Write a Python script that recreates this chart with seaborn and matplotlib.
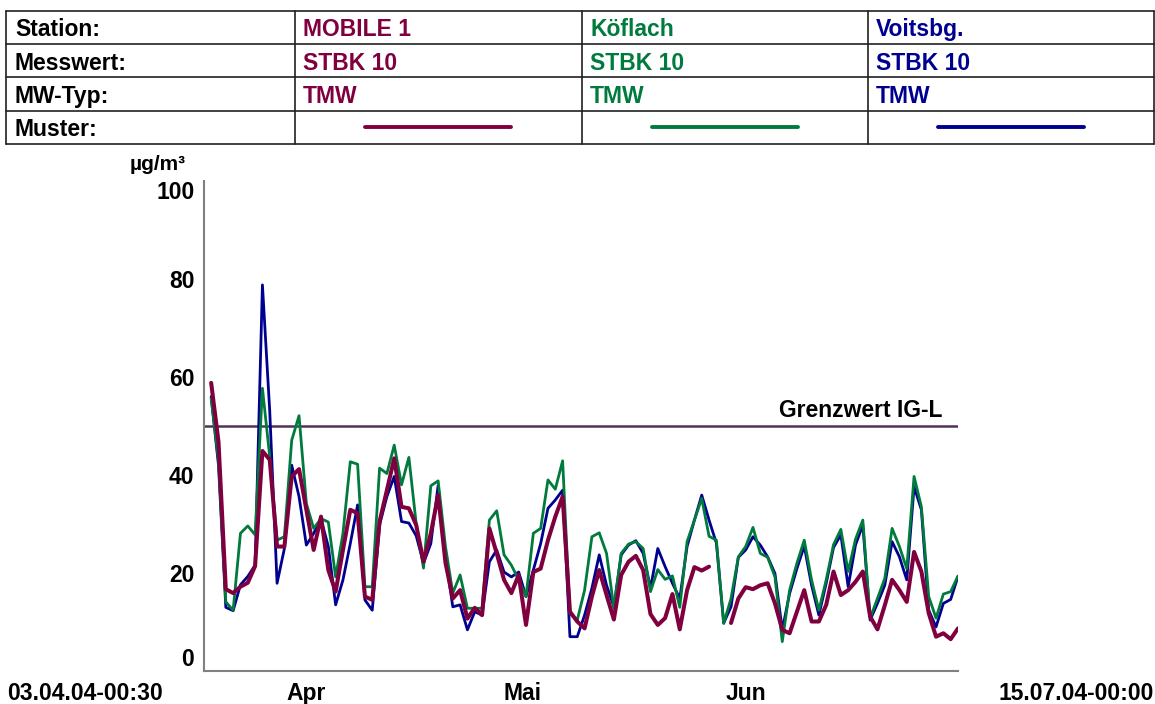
import numpy as np
import pandas as pd
import matplotlib.pyplot as plt
import matplotlib.transforms as mtransforms
from matplotlib.lines import Line2D
import seaborn as sns

# ============================
#  DATA (Tagesmittelwerte STBK 10, µg/m³)
# ============================
dates = pd.date_range("2004-04-04", "2004-07-15", freq="D")

mobile1 = [58.8, 46.8, 16.7, 15.9, 17.2, 18.0, 21.4, 44.9, 43.1, 25.4,
           25.4, 39.7, 41.2, 32.9, 24.7, 31.5, 20.6, 16.2, 24.7, 32.9,
           32.2, 15.2, 14.5, 30.5, 36.9, 43.4, 33.5, 33.2, 29.8, 22.3,
           28.1, 35.9, 22.1, 14.8, 16.5, 10.7, 12.9, 11.4, 29.1, 24.0,
           18.6, 15.9, 19.6, 9.4, 20.2, 20.9, 26.7, 31.5, 35.6, 12.1,
           10.1, 8.7, 15.2, 20.6, 15.5, 10.5, 19.6, 22.3, 23.5, 20.6,
           11.6, 9.4, 10.8, 15.7, 8.5, 16.5, 21.2, 20.5, 21.3, np.nan,
           np.nan, 9.8, 14.8, 17.1, 16.7, 17.5, 17.9, 13.8, 8.4, 7.7,
           12.1, 16.5, 10.1, 10.1, 13.5, 20.3, 15.5, 16.5, 18.2, 20.3,
           11.1, 8.5, 13.4, 18.6, 16.5, 14.1, 24.3, 20.3, 11.8, 7.0,
           7.7, 6.5, 8.7]

koeflach = [55.6, 43.0, 14.1, 12.4, 28.1, 29.6, 27.8, 57.7, 43.7, 26.7,
            27.4, 47.1, 52.1, 34.2, 29.1, 31.1, 30.4, 19.2, 28.1, 42.7,
            42.2, 17.2, 17.2, 41.4, 40.3, 46.1, 38.0, 43.6, 30.1, 21.0,
            37.8, 38.8, 25.4, 15.9, 19.6, 12.8, 12.8, 12.8, 30.8, 32.7,
            23.7, 21.6, 18.6, 15.2, 28.1, 29.1, 39.0, 37.1, 42.9, 11.7,
            10.4, 16.5, 27.4, 28.2, 24.0, 12.8, 24.0, 25.9, 26.4, 25.0,
            16.2, 20.7, 18.7, 19.4, 13.0, 26.4, 30.8, 35.2, 27.5, 26.7,
            9.7, 14.8, 23.3, 25.4, 29.3, 24.0, 23.2, 19.2, 6.0, 16.5,
            22.0, 26.7, 18.6, 12.4, 18.6, 25.8, 28.9, 20.3, 26.9, 30.8,
            10.8, 14.8, 18.9, 29.1, 25.4, 20.9, 39.7, 33.5, 15.2, 10.8,
            15.7, 16.2, 19.4]

voitsberg = [56.0, 42.0, 13.0, 12.3, 17.6, 19.3, 21.6, 78.8, 53.0, 17.9,
             25.0, 42.0, 35.6, 25.7, 28.1, 31.0, 25.4, 13.5, 18.6, 26.0,
             33.9, 14.5, 12.4, 29.8, 35.6, 39.7, 30.5, 30.2, 27.6, 22.0,
             26.0, 37.9, 23.3, 13.1, 13.5, 8.4, 12.1, 11.4, 22.3, 24.7,
             20.2, 19.2, 20.2, 15.2, 20.6, 26.0, 33.2, 34.9, 36.9, 7.0,
             7.0, 11.4, 16.9, 23.7, 17.5, 13.1, 23.7, 25.7, 26.6, 24.0,
             16.9, 25.0, 21.3, 17.9, 14.8, 25.4, 30.8, 35.9, 30.8, 26.1,
             9.8, 13.1, 23.2, 24.7, 27.4, 25.7, 23.3, 19.9, 8.4, 15.8,
             20.9, 25.5, 17.5, 11.4, 17.9, 25.2, 27.8, 17.2, 25.7, 29.8,
             10.4, 13.8, 17.5, 26.4, 23.3, 18.6, 37.6, 32.9, 12.4, 9.0,
             13.8, 14.6, 19.3]

stations = ["MOBILE 1", "Köflach", "Voitsbg."]
messwert = ["STBK 10", "STBK 10", "STBK 10"]
mw_typ = ["TMW", "TMW", "TMW"]
row_labels = ["Station:", "Messwert:", "MW-Typ:", "Muster:"]

colors = {"MOBILE 1": "#80003F", "Köflach": "#007A3D", "Voitsbg.": "#000090"}
widths = {"MOBILE 1": 2.9, "Köflach": 2.0, "Voitsbg.": 2.0}

grenzwert = 50
y_ticks = [0, 20, 40, 60, 80, 100]
month_starts = pd.to_datetime(["2004-05-01", "2004-06-01", "2004-07-01"])
month_labels = ["Apr", "Mai", "Jun"]
x_start = pd.Timestamp("2004-04-03 00:30")
x_end = pd.Timestamp("2004-07-15 00:00")

# long table, one segment per gap so lines are not bridged
frames = []
for name, vals in zip(stations, [mobile1, koeflach, voitsberg]):
    d = pd.DataFrame({"Datum": dates, "Wert": vals, "Station": name})
    d["Abschnitt"] = d["Wert"].isna().cumsum()
    frames.append(d.dropna())
df = pd.concat(frames, ignore_index=True)

# ============================
#  PLOT
# ============================
sns.set_style("white")
plt.rcParams["font.family"] = ["Liberation Sans", "DejaVu Sans"]
plt.rcParams["font.weight"] = "bold"
plt.rcParams["text.color"] = "black"
plt.rcParams["xtick.labelcolor"] = "black"
plt.rcParams["ytick.labelcolor"] = "black"

FS = 16.5
W, H = 1155, 704
fig = plt.figure(figsize=(W / 100, H / 100), dpi=100)
ax = fig.add_axes([204 / W, 1 - 671 / H, 754 / W, 490 / H])

sns.lineplot(data=df, x="Datum", y="Wert", hue="Station", units="Abschnitt",
             estimator=None, hue_order=["Voitsbg.", "Köflach", "MOBILE 1"],
             palette=colors, size="Station", sizes=widths, legend=False, ax=ax)

ax.axhline(grenzwert, color="#4E3558", lw=1.8, zorder=1)
trans = mtransforms.blended_transform_factory(ax.transAxes, ax.transData)
ax.text(0.979, grenzwert + 0.9, "Grenzwert IG-L", transform=trans,
        ha="right", va="bottom", fontsize=FS, fontweight="bold")

ax.set_xlim(x_start, x_end)
ax.set_ylim(0, 100)
ax.set_xlabel("")
ax.set_ylabel("")

# month boundaries as ticks, month names in between
ax.set_xticks(month_starts)
ax.set_xticklabels([])
bounds = [x_start] + list(month_starts)
mids = [bounds[k] + (bounds[k + 1] - bounds[k]) / 2 for k in range(3)]
ax.set_xticks(mids, minor=True)
ax.set_xticklabels(month_labels, minor=True)
ax.tick_params(axis="x", which="major", length=7, width=1.2, color="#808080")
ax.tick_params(axis="x", which="minor", length=0, pad=8, labelsize=FS)

ax.set_yticks(y_ticks)
ax.tick_params(axis="y", length=4, width=1.2, color="#808080", pad=3, labelsize=FS)
ylabs = ax.get_yticklabels()
ylabs[0].set_va("bottom")
ylabs[-1].set_va("top")

for s in ["top", "right"]:
    ax.spines[s].set_visible(False)
for s in ["left", "bottom"]:
    ax.spines[s].set_color("#808080")
    ax.spines[s].set_linewidth(1.5)

# axis texts
fig.text(186 / W, 1 - 164 / H, "µg/m³", ha="right", va="center", fontsize=15, fontweight="bold")
fig.text(7 / W, 1 - 693 / H, "03.04.04-00:30", ha="left", va="center", fontsize=FS, fontweight="bold")
fig.text(1154 / W, 1 - 693 / H, "15.07.04-00:00", ha="right", va="center", fontsize=FS, fontweight="bold")

# ============================
#  HEADER TABLE
# ============================
def fx(px):
    return px / W

def fy(py):
    return 1 - py / H

row_y = [10.7, 44.0, 77.3, 110.7, 144.0]
col_x = [6, 295, 582, 868, 1154]

for y in row_y:
    fig.add_artist(Line2D([fx(col_x[0]), fx(col_x[-1])], [fy(y), fy(y)], color="#202020", lw=1.2))
for x in col_x:
    fig.add_artist(Line2D([fx(x), fx(x)], [fy(row_y[0]), fy(row_y[-1])], color="#202020", lw=1.2))

for r, lab in enumerate(row_labels):
    yc = (row_y[r] + row_y[r + 1]) / 2 + 2.5
    fig.text(fx(15), fy(yc), lab, ha="left", va="center", fontsize=FS, fontweight="bold")

for c, name in enumerate(stations):
    x0 = col_x[c + 1]
    col = colors[name]
    for r, val in enumerate([name, messwert[c], mw_typ[c]]):
        yc = (row_y[r] + row_y[r + 1]) / 2 + 2.5
        fig.text(fx(x0 + 8), fy(yc), val, ha="left", va="center", fontsize=FS,
                 fontweight="bold", color=col)
    fig.add_artist(Line2D([fx(x0 + 70), fx(x0 + 216)], [fy(127), fy(127)], color=col, lw=2.8))

fig.savefig("out.png", dpi=100)
